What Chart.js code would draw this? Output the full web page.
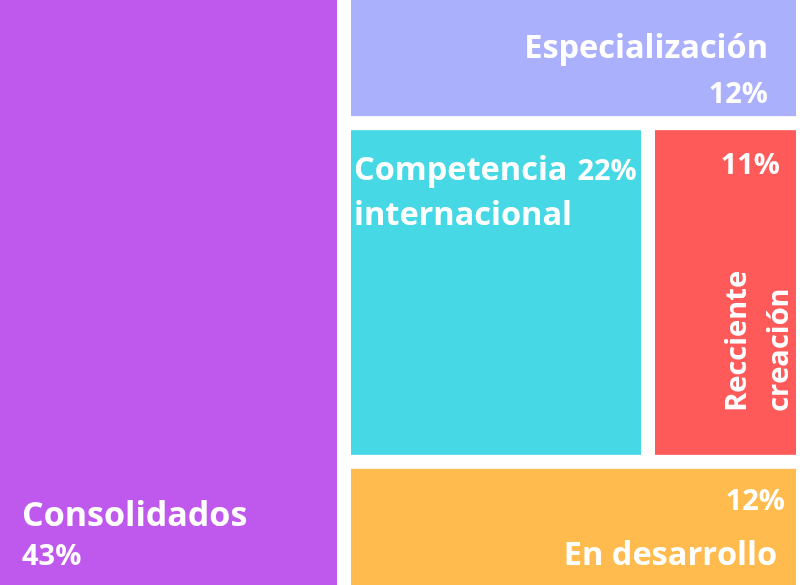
<!DOCTYPE html>
<html lang="es">
<head>
<meta charset="utf-8">
<title>Treemap</title>
<script src="https://cdn.jsdelivr.net/npm/chart.js@4.4.1/dist/chart.umd.min.js"></script>
<style>
    html, body { margin: 0; padding: 0; background: #ffffff; }
    #wrap { width: 800px; height: 585px; }
</style>
</head>
<body>
<div id="wrap"><canvas id="treeChart"></canvas></div>
<script>
// Datos del gráfico
const categories = ['Consolidados', 'Especialización', 'Competencia internacional', 'Recciente creación', 'En desarrollo'];
const shares = [43, 12, 22, 11, 12];
const colors = ['#bf58ec', '#aab0fc', '#47d8e6', '#ff5a5a', '#ffbb4d'];

// Layout del treemap (en unidades de datos, 0-100) calculado a partir de los valores
// Columna izquierda: Consolidados; derecha: Especialización / (Competencia + Recciente) / En desarrollo
function buildLayout() {
    const total = shares.reduce((a, b) => a + b, 0);
    const leftW = 100 * shares[0] / total;
    const rightSum = total - shares[0];
    const midSum = shares[2] + shares[3];
    const topH = 100 * shares[1] / rightSum;
    const midH = 100 * midSum / rightSum;
    const compW = (100 - leftW) * shares[2] / midSum;
    return [
        { x0: 0, x1: leftW, y0: 0, y1: 100 },
        { x0: leftW, x1: 100, y0: 0, y1: topH },
        { x0: leftW, x1: leftW + compW, y0: topH, y1: topH + midH },
        { x0: leftW + compW, x1: 100, y0: topH, y1: topH + midH },
        { x0: leftW, x1: 100, y0: topH + midH, y1: 100 }
    ];
}

const cells = buildLayout();
const GAP = 7;          // media separación entre celdas
const FONT = '"Open Sans", "Noto Sans", sans-serif';

// Convierte una celda a píxeles usando las escalas del gráfico
function cellRect(chart, c) {
    const xs = chart.scales.x, ys = chart.scales.y;
    let left = xs.getPixelForValue(c.x0), right = xs.getPixelForValue(c.x1);
    let top = ys.getPixelForValue(c.y0), bottom = ys.getPixelForValue(c.y1);
    if (c.x0 > 0) left += GAP;
    right -= c.x1 < 100 ? GAP : 4;
    if (c.y0 > 0) top += GAP;
    if (c.y1 < 100) bottom -= GAP;
    return { left, right, top, bottom, w: right - left, h: bottom - top };
}

function txt(ctx, s, x, y, size, align) {
    ctx.font = `bold ${size}px ${FONT}`;
    ctx.textAlign = align;
    ctx.textBaseline = 'alphabetic';
    ctx.fillText(s, x, y);
}

// Plugin que dibuja las celdas y las etiquetas
const treemapPlugin = {
    id: 'treemapCells',
    beforeDatasetsDraw(chart) {
        const ctx = chart.ctx;
        const r = cells.map(c => cellRect(chart, c));
        ctx.save();
        r.forEach((rc, i) => {
            ctx.fillStyle = colors[i];
            ctx.fillRect(rc.left, rc.top, rc.w, rc.h);
        });
        ctx.fillStyle = '#ffffff';
        const pct = shares.map(v => v + '%');

        // Consolidados
        txt(ctx, 'Consolidados', r[0].left + 22, r[0].bottom - 59, 34, 'left');
        txt(ctx, pct[0], r[0].left + 22, r[0].bottom - 20, 29, 'left');

        // Especialización
        txt(ctx, categories[1], r[1].right - 28, r[1].top + 58, 32.5, 'right');
        txt(ctx, pct[1], r[1].right - 28, r[1].top + 103, 29, 'right');

        // Competencia internacional
        ctx.font = `bold 32.5px ${FONT}`;
        const w1 = ctx.measureText('Competencia').width;
        txt(ctx, 'Competencia', r[2].left + 3, r[2].top + 50, 32.5, 'left');
        txt(ctx, 'internacional', r[2].left + 3, r[2].top + 95, 32.5, 'left');
        txt(ctx, pct[2], r[2].left + 3 + w1 + 10, r[2].top + 50, 29, 'left');

        // Recciente creación (rotado)
        txt(ctx, pct[3], r[3].right - 16, r[3].top + 44, 29, 'right');
        ctx.save();
        ctx.translate(r[3].right, r[3].bottom - 43);
        ctx.rotate(-Math.PI / 2);
        txt(ctx, 'Recciente', 0, -50, 29, 'left');
        txt(ctx, 'creación', 0, -8, 29, 'left');
        ctx.restore();

        // En desarrollo
        txt(ctx, pct[4], r[4].right - 11, r[4].top + 41, 29, 'right');
        txt(ctx, categories[4], r[4].right - 19, r[4].bottom - 20, 32.5, 'right');
        ctx.restore();
    }
};

new Chart(document.getElementById('treeChart'), {
    type: 'scatter',
    data: { datasets: [{ data: [] }] },
    options: {
        responsive: true,
        maintainAspectRatio: false,
        animation: false,
        layout: { padding: 0 },
        plugins: { legend: { display: false }, tooltip: { enabled: false } },
        scales: {
            x: { type: 'linear', min: 0, max: 100, display: false },
            y: { type: 'linear', min: 0, max: 100, reverse: true, display: false }
        }
    },
    plugins: [treemapPlugin]
});
</script>
</body>
</html>
